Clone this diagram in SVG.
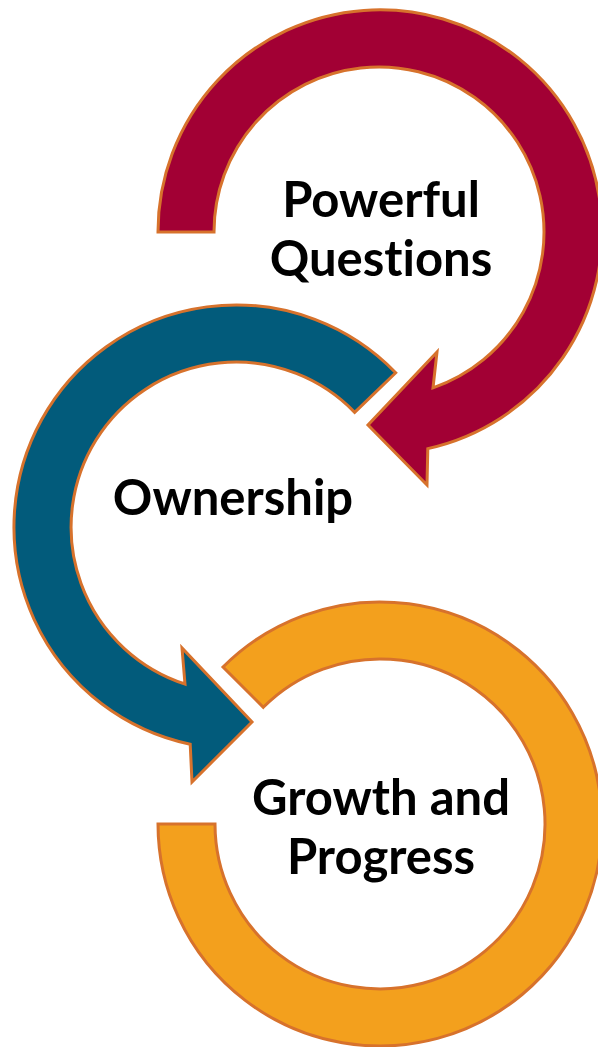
<svg xmlns="http://www.w3.org/2000/svg" width="598" height="1047" viewBox="0 0 598 1047">
<style>
.arrow{stroke:#D7722C;stroke-width:3;stroke-linejoin:miter}
.red{fill:#A20034}
.teal{fill:#025B7B}
.orange{fill:#F3A01D}
.lbl{font-family:Lato,"Open Sans","Liberation Sans",sans-serif;font-weight:bold;font-size:49px;fill:#000;text-anchor:middle;font-variant-ligatures:none}
</style>
<rect width="598" height="1047" fill="#fff"/>
<g id="node-powerful-questions">
<path class="arrow red" d="M158,232 A222,222 0 1 1 427.8,448.6 L427,485 L368,425 L437,352 L433,387.9 A165,165 0 1 0 214,232 Z"/>
<text class="lbl" x="381" y="217">Powerful</text>
<text class="lbl" x="381" y="276">Questions</text>
</g>
<g id="node-ownership">
<path class="arrow teal" d="M395.7,372.8 A222,222 0 1 0 190.2,744.2 L192,782 L252,722 L182,648 L185,684 A165,165 0 1 1 354.7,412.4 Z"/>
<text class="lbl" x="233" y="515">Ownership</text>
</g>
<g id="node-growth-progress">
<path class="arrow orange" d="M223,667 A222,222 0 1 1 158,824 L215,824 A165,165 0 1 0 263.3,707.3 Z"/>
<text class="lbl" x="381" y="815">Growth and</text>
<text class="lbl" x="381" y="874">Progress</text>
</g>
<g id="connectors"></g>
</svg>
